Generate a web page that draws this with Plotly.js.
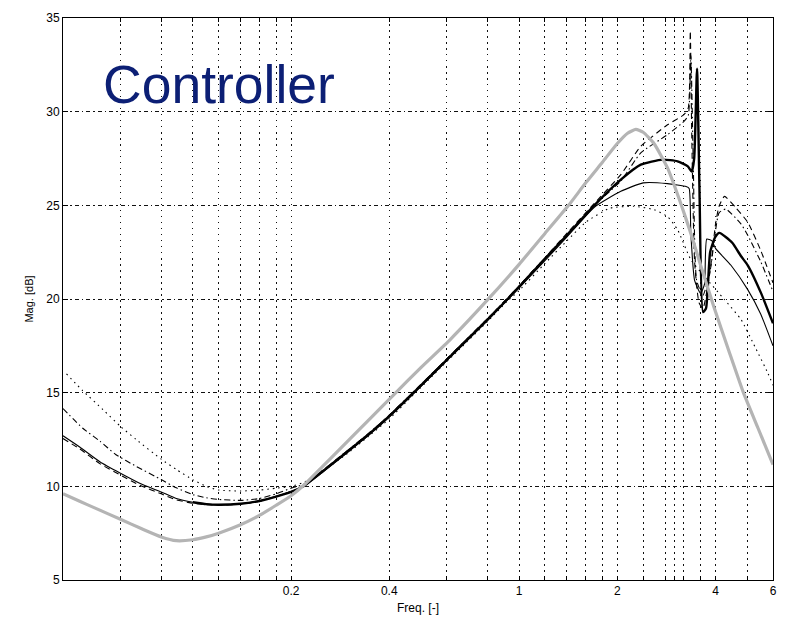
<!DOCTYPE html>
<html>
<head>
<meta charset="utf-8">
<script src="https://cdn.plot.ly/plotly-3.0.1.min.js"></script>
<style>html,body{margin:0;padding:0;background:#fff;}#chart{width:787px;height:618px;}</style>
</head>
<body>
<div id="chart"></div>
<script>
// Tick values / labels
var xTickVals = [0.06,0.08,0.1,0.12,0.14,0.16,0.18,0.2,0.4,0.6,0.8,1,1.2,1.4,1.6,1.8,2,2.4,2.8,3,3.2,3.6,4,5,6];
var xTickText = ['','','','','','','','0.2','0.4','','','1','','','','','2','','','','','','4','','6'];
var yTickVals = [5,10,15,20,25,30,35];

// Gray (thick light) curve
var freqGray = [0.04,0.045,0.05,0.06,0.07,0.08,0.089,0.1,0.11,0.12,0.14,0.16,0.18,0.2,0.22,0.25,0.3,0.35,0.412,0.5,0.616,0.8,1.0,1.2,1.418,1.6,1.8,2.0,2.15,2.28,2.4,2.59,2.85,3.13,3.36,3.6,3.95,4.4,4.87,5.4,6];
var magGray  = [9.6,9.2,8.85,8.24,7.72,7.3,7.1,7.15,7.3,7.5,7.95,8.45,8.99,9.5,10.1,11.07,12.45,13.63,14.87,16.34,17.85,19.95,21.85,23.5,25.0,26.2,27.3,28.3,28.85,29.05,28.9,28.3,27.0,25.1,23.5,21.8,19.6,17.2,15.0,13.1,11.16];

// Thick black solid
var freqThick = [0.1,0.11,0.12,0.14,0.16,0.18,0.2,0.218,0.25,0.3,0.35,0.4,0.475,0.55,0.65,0.8,0.922,1.0,1.2,1.4,1.7,2.05,2.36,2.75,3.06,3.29,3.38,3.44,3.51,3.57,3.66,3.74,3.85,3.99,4.11,4.5,4.79,5.02,5.52,6];
var magThick  = [9.15,9.05,9.02,9.07,9.22,9.45,9.7,10.0,10.8,11.9,12.85,13.75,15.0,16.1,17.35,18.9,20.0,20.65,22.15,23.4,25.0,26.37,27.17,27.44,27.35,27.08,26.8,27.5,32.3,26.0,19.3,19.5,22.5,23.3,23.53,23.0,22.28,21.8,20.3,18.7];

// Thin black solid
var freqThin = [0.04,0.045,0.052,0.06,0.069,0.08,0.089,0.1,0.11,0.12,0.14,0.16,0.18,0.2,0.218,0.25,0.3,0.35,0.4,0.475,0.55,0.65,0.8,0.922,1.0,1.2,1.4,1.7,2.05,2.4,2.85,3.25,3.32,3.36,3.45,3.6,3.7,3.76,3.9,4.0,4.46,5.02,5.5,6];
var magThin  = [12.7,12.1,11.3,10.7,10.15,9.7,9.35,9.15,9.05,9.02,9.07,9.22,9.47,9.72,9.98,10.75,11.85,12.8,13.7,14.95,16.05,17.3,18.85,19.95,20.6,22.05,23.3,24.9,25.75,26.2,26.16,26.0,25.9,23.5,21.0,20.3,20.8,23.2,23.1,22.7,21.8,20.5,19.2,17.5];

// Dashed
var freqDash = [0.04,0.045,0.052,0.06,0.069,0.08,0.089,0.1,0.11,0.12,0.14,0.16,0.18,0.2,0.218,0.25,0.3,0.35,0.4,0.475,0.55,0.65,0.8,0.922,1.0,1.2,1.4,1.7,2.05,2.36,2.85,3.2,3.3,3.347,3.38,3.45,3.56,3.66,3.85,4.0,4.1,4.26,4.6,5.02,5.5,6];
var magDash  = [12.55,12.0,11.2,10.6,10.05,9.6,9.28,9.1,9.02,9.0,9.05,9.2,9.45,9.72,10.02,10.85,11.95,12.9,13.8,15.05,16.15,17.4,18.95,20.05,20.7,22.2,23.5,25.1,26.64,28.15,29.3,29.84,30.2,34.3,29.0,22.0,19.8,19.5,21.5,24.0,24.95,25.48,24.9,24.1,22.6,20.86];

// Dash-dot
var freqDashDot = [0.04,0.046,0.052,0.058,0.067,0.08,0.089,0.1,0.11,0.12,0.14,0.16,0.18,0.2,0.218,0.25,0.3,0.35,0.4,0.475,0.55,0.65,0.8,0.922,1.0,1.2,1.4,1.7,2.05,2.36,2.85,3.2,3.3,3.36,3.42,3.5,3.66,3.85,4.1,4.3,4.79,5.02,5.5,6];
var magDashDot  = [14.15,13.1,12.4,11.7,11.07,10.36,9.92,9.56,9.39,9.3,9.25,9.35,9.6,9.9,10.1,10.85,11.95,12.9,13.8,15.05,16.15,17.4,18.95,20.05,20.7,22.2,23.45,25.0,26.3,27.8,28.77,29.48,29.8,33.0,27.0,21.0,20.2,21.5,24.6,24.8,24.0,23.4,22.0,20.4];

// Dotted
var freqDot = [0.041,0.046,0.053,0.06,0.067,0.08,0.089,0.1,0.11,0.12,0.14,0.16,0.18,0.2,0.218,0.25,0.3,0.35,0.4,0.475,0.55,0.65,0.8,0.922,1.0,1.2,1.4,1.6,1.9,2.25,2.59,2.85,3.06,3.36,3.7,4.26,4.79,5.3,5.78,6];
var magDot  = [16.0,15.1,14.1,13.2,12.5,11.45,10.9,10.35,10.0,9.8,9.75,9.8,9.9,10.0,10.2,10.8,11.8,12.75,13.6,14.9,16.0,17.25,18.8,19.9,20.45,21.9,23.1,24.1,24.85,24.95,24.77,24.4,23.7,22.1,21.2,19.97,18.9,17.4,16.06,15.4];

function tr(x, y, color, width, dash) {
  return {x: x, y: y, type: 'scatter', mode: 'lines', hoverinfo: 'skip',
          line: {color: color, width: width, dash: dash, shape: 'spline', smoothing: 0.5}};
}

var data = [
  tr(freqDot, magDot, '#000', 1.1, '1.5px,4px'),
  tr(freqDashDot, magDashDot, '#000', 1.1, '6px,3px,1.5px,3px'),
  tr(freqDash, magDash, '#000', 1.1, '6px,4px'),
  tr(freqThin, magThin, '#000', 1.1, 'solid'),
  tr(freqThick, magThick, '#000', 2.4, 'solid'),
  tr(freqGray, magGray, '#b4b4b4', 3.2, 'solid')
];

var axFont = {family: 'Liberation Sans, Arial, sans-serif', size: 12, color: '#000'};

var layout = {
  width: 787, height: 618,
  margin: {l: 63, r: 14, t: 18, b: 38},
  paper_bgcolor: '#fff', plot_bgcolor: '#fff',
  showlegend: false,
  xaxis: {
    type: 'log', range: [Math.log10(0.04), Math.log10(6)],
    tickvals: xTickVals, ticktext: xTickText,
    showgrid: true, gridcolor: '#111', gridwidth: 1, griddash: '1.5px,4.5px',
    showline: true, linecolor: '#000', linewidth: 1, mirror: 'ticks',
    ticks: 'inside', ticklen: 4, tickcolor: '#000',
    zeroline: false, tickfont: axFont,
    title: {text: 'Freq. [-]', font: {family: 'Liberation Sans, Arial, sans-serif', size: 12, color: '#000'}, standoff: 6}
  },
  yaxis: {
    range: [5, 35], tickvals: yTickVals,
    showgrid: true, gridcolor: '#111', gridwidth: 1, griddash: '4px,3px,1.5px,3px',
    showline: true, linecolor: '#000', linewidth: 1, mirror: 'ticks',
    ticks: 'inside', ticklen: 5, tickcolor: '#000',
    zeroline: false, tickfont: axFont,
    title: {text: 'Mag. [dB]', font: {family: 'Liberation Sans, Arial, sans-serif', size: 11, color: '#000'}, standoff: 10}
  },
  annotations: [{
    xref: 'paper', yref: 'paper', x: 0.053, y: 0.882,
    xanchor: 'left', yanchor: 'middle', showarrow: false,
    text: 'Controller',
    font: {family: 'Liberation Sans, Arial, sans-serif', size: 53.5, color: '#0c1f75'}
  }]
};

Plotly.newPlot('chart', data, layout, {staticPlot: true, displayModeBar: false});
</script>
</body>
</html>
